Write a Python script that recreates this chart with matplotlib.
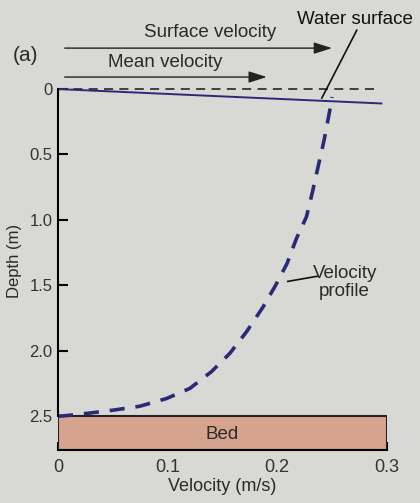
import matplotlib
matplotlib.use('Agg')
import matplotlib.pyplot as plt
from matplotlib.patches import Rectangle

plt.rcParams['font.family'] = ['Liberation Sans', 'DejaVu Sans']

# velocity profile (m/s, m)
prof_v = [0.0, 0.0048, 0.0262, 0.0504, 0.0747, 0.0991, 0.1203, 0.140, 0.1568, 0.172,
          0.1872, 0.1978, 0.209, 0.2176, 0.2267, 0.2322, 0.2373, 0.2428, 0.2486, 0.250]
prof_d = [2.5, 2.498, 2.479, 2.454, 2.424, 2.365, 2.288, 2.16, 2.02, 1.855,
          1.664, 1.511, 1.333, 1.141, 0.976, 0.785, 0.594, 0.39, 0.135, 0.06]
surf_v = [0.0, 0.295]
surf_d = [0.0, 0.11]
ref_v = [0.0, 0.2935]
ref_d = [0.0, 0.0]
surface_vel = 0.2525
mean_vel = 0.193
bed_top, bed_bot = 2.5, 2.76
xticks = [0, 0.1, 0.2, 0.3]
xticklabels = ['0', '0.1', '0.2', '0.3']
yticks = [0, 0.5, 1.0, 1.5, 2.0, 2.5]
yticklabels = ['0', '0.5', '1.0', '1.5', '2.0', '2.5']

bg = '#d8d8d4'
navy = '#2c2a78'
txt = '#2a2a2a'

fig = plt.figure(figsize=(4.2, 5.03), dpi=100, facecolor=bg)
ax = fig.add_axes([0.138, 0.105, 0.783, 0.874])
ax.set_facecolor(bg)
ax.set_xlim(0, 0.3)
ax.set_ylim(bed_bot, -0.6)

ax.add_patch(Rectangle((0, bed_top), 0.3, bed_bot - bed_top, facecolor='#d6a48e',
                       edgecolor='#222222', lw=1.5, zorder=2))
ax.text(0.15, (bed_top + bed_bot) / 2 + 0.01, 'Bed', ha='center', va='center',
        fontsize=13.5, color=txt, zorder=3)

ax.plot(ref_v, ref_d, color='#333333', lw=1.3, dashes=(5, 3.5))
ax.plot(surf_v, surf_d, color=navy, lw=1.4)
ax.plot(prof_v, prof_d, color=navy, lw=2.6, dashes=(4.2, 3.0))

# velocity arrows
ax.annotate('', xy=(surface_vel, -0.313), xytext=(0.0036, -0.313),
            arrowprops=dict(arrowstyle='-|>,head_length=1.1,head_width=0.35',
                            color='#222222', lw=1.0), annotation_clip=False)
ax.annotate('', xy=(mean_vel, -0.092), xytext=(0.0036, -0.092),
            arrowprops=dict(arrowstyle='-|>,head_length=1.1,head_width=0.35',
                            color='#222222', lw=1.0), annotation_clip=False)
ax.text(0.1386, -0.43, 'Surface velocity', ha='center', va='center', fontsize=13.5, color=txt)
ax.text(0.0975, -0.206, 'Mean velocity', ha='center', va='center', fontsize=13.5, color=txt)
ax.text(-0.03, -0.26, '(a)', ha='center', va='center', fontsize=15, color=txt)

ax.text(0.271, -0.53, 'Water surface', ha='center', va='center', fontsize=13.5,
        color='#111111', clip_on=False)
ax.plot([0.2726, 0.2407], [-0.45, 0.069], color='#111111', lw=1.2, clip_on=False)

ax.text(0.2616, 1.48, 'Velocity\nprofile', ha='center', va='center', fontsize=13.5,
        color=txt, linespacing=1.1)
ax.plot([0.2097, 0.237], [1.47, 1.43], color='#111111', lw=1.2)

for s in ['top', 'right']:
    ax.spines[s].set_visible(False)
ax.spines['left'].set_bounds(0, bed_top)
ax.spines['left'].set_linewidth(1.5)
ax.spines['bottom'].set_linewidth(1.5)

ax.set_xticks(xticks)
ax.set_xticklabels(xticklabels)
ax.set_yticks(yticks)
ax.set_yticklabels(yticklabels)
ax.tick_params(axis='x', direction='in', length=6, width=1.5, pad=6,
               labelsize=13, labelcolor='#333333')
ax.tick_params(axis='y', direction='in', length=7, width=1.5, pad=4,
               labelsize=12, labelcolor='#333333')
ax.set_xlabel('Velocity (m/s)', fontsize=13, color=txt, labelpad=2)
ax.set_ylabel('Depth (m)', fontsize=12, color=txt, labelpad=4)
ax.yaxis.set_label_coords(-0.11, 0.43)

fig.savefig('out.png', dpi=100, facecolor=bg)
